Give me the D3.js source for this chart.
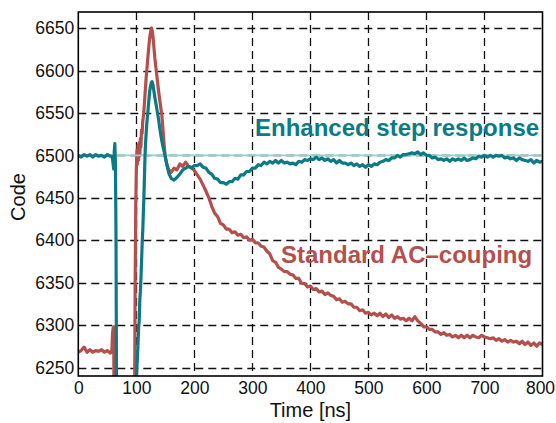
<!DOCTYPE html>
<html>
<head>
<meta charset="utf-8">
<script src="https://cdn.jsdelivr.net/npm/d3@7"></script>
<style>
  html, body { margin: 0; padding: 0; background: #fff; }
  svg { display: block; font-family: "Liberation Sans", Arial, Helvetica, sans-serif; }
</style>
</head>
<body>
<svg id="chart" width="556" height="423"></svg>
<script>
// ---- data ----
const timeNs = [
  0,5,10,15,20,25,30,35,40,45,50,55,
  57,58,59,60,61,62,63,64,65,66,67,68,
  70,75,80,85,90,95,
  96,97,98,99,100,101,102,103,104,105,106,107,108,109,110,111,112,113,114,115,
  116,117,118,119,120,121,122,123,124,125,126,127,128,129,130,132,134,136,138,140,
  142,144,146,148,150,153,156,
  160,165,170,175,180,185,190,195,200,205,210,215,220,225,230,235,240,245,250,255,
  260,265,270,275,280,285,290,295,300,305,310,315,320,325,330,335,340,345,350,355,
  360,365,370,375,380,385,390,395,400,405,410,415,420,425,430,435,440,445,450,455,
  460,465,470,475,480,485,490,495,500,505,510,515,520,525,530,535,540,545,550,555,
  560,565,570,575,580,585,590,595,600,605,610,615,620,625,630,635,640,645,650,655,
  660,665,670,675,680,685,690,695,700,705,710,715,720,725,730,735,740,745,750,755,
  760,765,770,775,780,785,790,795,800
];

const standardCode = [
  6268,6270,6274,6268,6271,6268,6270,6269,6271,6268,6270,6267,
  6268,6272,6290,6296,6298,6150,6100,6100,6100,6100,6100,6100,
  6100,6100,6100,6100,6100,6100,
  6100,6200,6350,6440,6482,6506,6490,6512,6495,6515,6500,6520,6510,6530,6526,6540,6545,6552,6562,6572,
  6582,6592,6600,6608,6616,6624,6632,6638,6643,6647,6650,6648,6645,6638,6630,6614,6602,6590,6578,6567,
  6557,6547,6530,6512,6498,6488,6483,
  6480,6485,6483,6490,6487,6492,6487,6486,6482,6477,6472,6465,6458,6450,6440,6432,6428,6420,6418,6413,
  6413,6409,6410,6406,6407,6403,6404,6400,6401,6397,6397,6393,6392,6387,6384,6376,6374,6368,6366,6363,
  6363,6360,6359,6355,6355,6349,6349,6345,6346,6342,6343,6339,6340,6336,6338,6335,6334,6330,6331,6327,
  6328,6325,6325,6321,6321,6317,6318,6314,6315,6312,6314,6311,6314,6310,6313,6309,6312,6308,6310,6307,
  6308,6305,6308,6305,6310,6305,6302,6298,6298,6295,6295,6292,6292,6289,6291,6288,6289,6286,6288,6285,
  6288,6285,6288,6285,6288,6286,6285,6288,6286,6285,6284,6285,6282,6284,6281,6283,6280,6282,6280,6281,
  6278,6281,6277,6280,6276,6279,6275,6279,6277
];

const enhancedCode = [
  6500,6498,6501,6499,6501,6498,6501,6499,6500,6498,6501,6499,
  6499,6498,6496,6490,6484,6505,6514,6490,6400,6200,6100,6100,
  6100,6100,6100,6100,6100,6100,
  6100,6100,6100,6150,6230,6250,6262,6280,6298,6305,6330,6340,6355,6375,6395,6410,6430,6450,6475,6500,
  6515,6527,6537,6545,6552,6560,6568,6575,6580,6583,6586,6587,6585,6582,6577,6568,6560,6552,6544,6534,
  6525,6517,6510,6504,6498,6488,6479,
  6473,6471,6474,6478,6483,6485,6487,6485,6488,6488,6490,6486,6485,6480,6478,6473,6472,6468,6468,6466,
  6469,6469,6473,6472,6477,6477,6481,6481,6485,6485,6489,6488,6492,6490,6493,6491,6494,6491,6494,6491,
  6492,6490,6491,6489,6493,6492,6495,6494,6496,6495,6498,6495,6497,6494,6496,6493,6495,6491,6494,6491,
  6491,6489,6491,6488,6490,6487,6489,6486,6489,6487,6490,6489,6492,6493,6495,6494,6497,6497,6500,6498,
  6501,6501,6502,6503,6502,6504,6501,6503,6500,6500,6497,6498,6495,6496,6494,6496,6493,6496,6494,6496,
  6494,6497,6494,6495,6497,6496,6499,6498,6500,6498,6500,6498,6500,6499,6500,6497,6498,6496,6497,6494,
  6497,6495,6494,6493,6495,6491,6494,6492,6493
];

const referenceCode = [6500];

const xTicks = [0, 100, 200, 300, 400, 500, 600, 700, 800];
const yTicks = [6250, 6300, 6350, 6400, 6450, 6500, 6550, 6600, 6650];

const labelEnhanced = "Enhanced step response";
const labelStandard = "Standard AC\u2013couping";

// ---- layout ----
const svg = d3.select("#chart");
const plot = { left: 78.3, right: 542.5, top: 12, bottom: 376 };
const red = "#b44f4d";
const teal = "#0a7b84";
const refColor = "#8fd2cd";

const x = d3.scaleLinear().domain([0, 800]).range([plot.left, plot.right]);
const y = d3.scaleLinear().domain([6240, 6669]).range([plot.bottom, plot.top]);

svg.append("defs").append("clipPath").attr("id", "clip")
  .append("rect")
  .attr("x", plot.left).attr("y", plot.top)
  .attr("width", plot.right - plot.left).attr("height", plot.bottom - plot.top);

// grid
const grid = svg.append("g").attr("stroke", "#111").attr("stroke-width", 1.3)
  .attr("stroke-dasharray", "8,5");
grid.selectAll(".vg").data(xTicks.filter(d => d > 0 && d < 800)).join("line")
  .attr("x1", d => Math.round(x(d)) + 0.5).attr("x2", d => Math.round(x(d)) + 0.5)
  .attr("y1", plot.top).attr("y2", plot.bottom);
grid.selectAll(".hg").data(yTicks).join("line")
  .attr("x1", plot.left).attr("x2", plot.right)
  .attr("y1", d => Math.round(y(d)) + 0.5).attr("y2", d => Math.round(y(d)) + 0.5);

const traces = svg.append("g").attr("clip-path", "url(#clip)");

const lineStd = d3.line().x((d, i) => x(timeNs[i])).y(d => y(d));

traces.append("path").datum(standardCode)
  .attr("fill", "none").attr("stroke", red).attr("stroke-width", 3.2)
  .attr("stroke-linejoin", "round").attr("d", lineStd);

traces.selectAll(".ref").data(referenceCode).join("line")
  .attr("x1", plot.left).attr("x2", plot.right)
  .attr("y1", d => y(d)).attr("y2", d => y(d))
  .attr("stroke", refColor).attr("stroke-width", 1.8);

traces.append("path").datum(enhancedCode)
  .attr("fill", "none").attr("stroke", teal).attr("stroke-width", 3.2)
  .attr("stroke-linejoin", "round").attr("d", lineStd);

// frame
svg.append("rect")
  .attr("x", plot.left).attr("y", plot.top)
  .attr("width", plot.right - plot.left).attr("height", plot.bottom - plot.top)
  .attr("fill", "none").attr("stroke", "#000").attr("stroke-width", 1.6);

// axes
const xAxis = svg.append("g").attr("transform", `translate(0,${plot.bottom})`)
  .call(d3.axisBottom(x).tickValues(xTicks).tickSize(0).tickPadding(6).tickFormat(d3.format("d")));
xAxis.select(".domain").remove();
xAxis.selectAll("text").attr("font-size", 17.5).attr("fill", "#111")
  .attr("font-family", "Liberation Sans, Arial, sans-serif")
  .attr("dx", d => d === 800 ? -2.5 : 0);

const yAxis = svg.append("g").attr("transform", `translate(${plot.left},0)`)
  .call(d3.axisLeft(y).tickValues(yTicks).tickSize(0).tickPadding(4).tickFormat(d3.format("d")));
yAxis.select(".domain").remove();
yAxis.selectAll("text").attr("font-size", 17.5).attr("fill", "#111")
  .attr("font-family", "Liberation Sans, Arial, sans-serif");

svg.append("text").attr("x", (plot.left + plot.right) / 2).attr("y", 417)
  .attr("text-anchor", "middle").attr("font-size", 20).attr("fill", "#111")
  .text("Time [ns]");

svg.append("text").attr("transform", `translate(25,${197}) rotate(-90)`)
  .attr("text-anchor", "middle").attr("font-size", 20).attr("fill", "#111")
  .text("Code");

// series labels
svg.append("text").attr("x", 255).attr("y", 136)
  .attr("font-size", 24).attr("font-weight", "bold").attr("fill", teal)
  .text(labelEnhanced);
svg.append("text").attr("x", 281).attr("y", 263)
  .attr("font-size", 24).attr("font-weight", "bold").attr("fill", red)
  .text(labelStandard);
</script>
</body>
</html>
